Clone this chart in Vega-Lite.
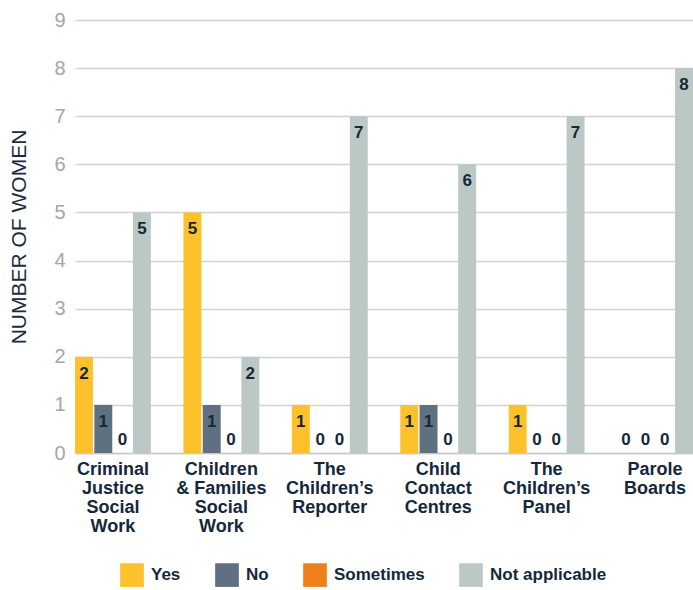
{
  "$schema": "https://vega.github.io/schema/vega-lite/v6.json",
  "width": 618,
  "height": 433,
  "autosize": {"type": "none"},
  "padding": {"left": 75, "top": 20, "right": 0, "bottom": 137},
  "background": "white",
  "config": {
    "view": {"stroke": null},
    "font": "Liberation Sans"
  },
  "data": {
    "values": [
      {"category": "Criminal|Justice|Social|Work", "response": "Yes", "count": 2},
      {"category": "Criminal|Justice|Social|Work", "response": "No", "count": 1},
      {"category": "Criminal|Justice|Social|Work", "response": "Sometimes", "count": 0},
      {"category": "Criminal|Justice|Social|Work", "response": "Not applicable", "count": 5},
      {"category": "Children|& Families|Social|Work", "response": "Yes", "count": 5},
      {"category": "Children|& Families|Social|Work", "response": "No", "count": 1},
      {"category": "Children|& Families|Social|Work", "response": "Sometimes", "count": 0},
      {"category": "Children|& Families|Social|Work", "response": "Not applicable", "count": 2},
      {"category": "The|Children’s|Reporter", "response": "Yes", "count": 1},
      {"category": "The|Children’s|Reporter", "response": "No", "count": 0},
      {"category": "The|Children’s|Reporter", "response": "Sometimes", "count": 0},
      {"category": "The|Children’s|Reporter", "response": "Not applicable", "count": 7},
      {"category": "Child|Contact|Centres", "response": "Yes", "count": 1},
      {"category": "Child|Contact|Centres", "response": "No", "count": 1},
      {"category": "Child|Contact|Centres", "response": "Sometimes", "count": 0},
      {"category": "Child|Contact|Centres", "response": "Not applicable", "count": 6},
      {"category": "The|Children’s|Panel", "response": "Yes", "count": 1},
      {"category": "The|Children’s|Panel", "response": "No", "count": 0},
      {"category": "The|Children’s|Panel", "response": "Sometimes", "count": 0},
      {"category": "The|Children’s|Panel", "response": "Not applicable", "count": 7},
      {"category": "Parole|Boards", "response": "Yes", "count": 0},
      {"category": "Parole|Boards", "response": "No", "count": 0},
      {"category": "Parole|Boards", "response": "Sometimes", "count": 0},
      {"category": "Parole|Boards", "response": "Not applicable", "count": 8}
    ]
  },
  "encoding": {
    "x": {
      "field": "category",
      "type": "nominal",
      "sort": null,
      "scale": {"paddingInner": 0.3, "paddingOuter": 0},
      "axis": {
        "title": null,
        "labelAngle": 0,
        "labelExpr": "split(datum.label, '|')",
        "labelFontSize": 18,
        "labelFontWeight": "bold",
        "labelColor": "#15283a",
        "labelLineHeight": 19,
        "labelBaseline": "top",
        "labelPadding": 7,
        "ticks": false,
        "domainColor": "#c8c8c8",
        "domainWidth": 1.5,
        "grid": false
      }
    },
    "xOffset": {
      "field": "response",
      "type": "nominal",
      "sort": ["Yes", "No", "Sometimes", "Not applicable"],
      "scale": {"paddingInner": 0.07, "paddingOuter": 0}
    },
    "y": {
      "field": "count",
      "type": "quantitative",
      "scale": {"domain": [0, 9], "nice": false},
      "axis": {
        "title": "NUMBER OF WOMEN",
        "titleFontSize": 21,
        "titleFontWeight": "normal",
        "titleColor": "#1b2b3b",
        "titlePadding": 24,
        "values": [0, 1, 2, 3, 4, 5, 6, 7, 8, 9],
        "labelFontSize": 20,
        "labelColor": "#a6a6a6",
        "labelPadding": 10,
        "domain": false,
        "ticks": false,
        "grid": true,
        "gridColor": "#d2d2d6",
        "gridWidth": 1.5
      }
    }
  },
  "layer": [
    {
      "mark": {"type": "bar"},
      "encoding": {
        "color": {
          "field": "response",
          "type": "nominal",
          "sort": ["Yes", "No", "Sometimes", "Not applicable"],
          "scale": {
            "domain": ["Yes", "No", "Sometimes", "Not applicable"],
            "range": ["#FDC22B", "#5F7080", "#EF7F1A", "#BCC8C5"]
          },
          "legend": {
            "title": null,
            "orient": "none",
            "legendX": 45,
            "legendY": 543,
            "direction": "horizontal",
            "symbolType": "square",
            "symbolSize": 560,
            "symbolStrokeWidth": 0,
            "symbolOpacity": 1,
            "labelFontSize": 17,
            "labelFontWeight": "bold",
            "labelColor": "#15283a",
            "labelOffset": 7,
            "columnPadding": 34
          }
        }
      }
    },
    {
      "transform": [{"filter": "datum.count > 0"}],
      "mark": {"type": "text", "dy": 17, "baseline": "middle", "fontSize": 17, "fontWeight": "bold", "color": "#15283a"},
      "encoding": {"text": {"field": "count", "type": "quantitative"}}
    },
    {
      "transform": [{"filter": "datum.count == 0"}],
      "mark": {"type": "text", "dy": -13, "baseline": "middle", "fontSize": 17, "fontWeight": "bold", "color": "#15283a"},
      "encoding": {"text": {"field": "count", "type": "quantitative"}}
    }
  ]
}
